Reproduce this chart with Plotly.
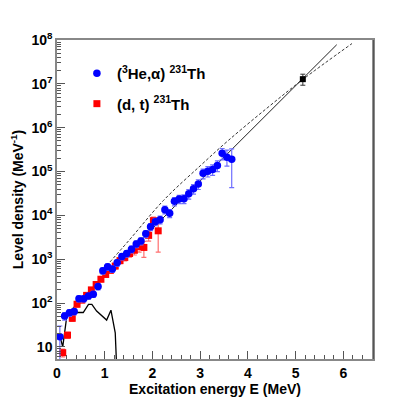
import plotly.graph_objects as go

# (3He,alpha) 231Th - blue circles
he_energy = [0.06, 0.16, 0.26, 0.36, 0.46, 0.56, 0.66, 0.76, 0.86, 0.96,
             1.06, 1.16, 1.26, 1.36, 1.46, 1.56, 1.66, 1.76, 1.86, 1.96,
             2.06, 2.16, 2.26, 2.36, 2.46, 2.56, 2.66, 2.76, 2.86, 2.96,
             3.06, 3.16, 3.26, 3.36, 3.46, 3.56, 3.66]
he_rho = [17, 51, 60, 64, 126, 126, 145, 160, 240, 550,
          670, 600, 830, 1150, 1350, 1700, 2240, 2600, 3800, 5500,
          7200, 8000, 13500, 11200, 21000, 23500, 24000, 31000, 40500, 52000,
          91000, 102000, 112000, 138000, 260000, 213000, 190000]
he_err_up = [13, 10, 10, 10, 20, 20, 22, 25, 40, 90,
             110, 100, 140, 190, 230, 300, 400, 480, 700, 1000,
             1400, 1600, 2700, 2300, 4500, 5000, 5500, 7500, 10000, 13000,
             23000, 27000, 30000, 38000, 75000, 95000, 140000]
he_err_dn = [13, 10, 10, 10, 20, 20, 22, 25, 40, 90,
             110, 100, 140, 190, 230, 300, 400, 480, 700, 1000,
             1400, 1600, 2700, 2300, 4500, 5000, 5500, 7500, 10000, 13000,
             23000, 27000, 30000, 38000, 75000, 80000, 147000]

# (d,t) 231Th - red squares
dt_energy = [0.12, 0.22, 0.32, 0.42, 0.52, 0.62, 0.72, 0.82, 0.92, 1.02,
             1.12, 1.22, 1.32, 1.42, 1.52, 1.62, 1.72, 1.82, 1.92, 2.02, 2.12]
dt_rho = [7.4, 18.6, 45, 94, 117, 150, 200, 265, 350, 450,
          560, 700, 930, 1100, 1350, 1600, 1950, 1860, 3500, 7600, 4450]
dt_err_up = [1.5, 3, 7, 12, 15, 20, 25, 35, 45, 60,
             80, 100, 140, 180, 230, 350, 500, 700, 900, 1500, 2000]
dt_err_dn = [1.5, 3, 7, 12, 15, 20, 25, 35, 45, 60,
             80, 100, 140, 180, 230, 350, 500, 760, 900, 1500, 3000]

# level density at neutron separation energy
sn_energy = [5.15]
sn_rho = [1.28e7]
sn_err_up = [0.38e7]
sn_err_dn = [0.35e7]

# discrete levels
disc_energy = [0.0, 0.05, 0.12, 0.22, 0.31, 0.38, 0.55, 0.66, 0.73, 0.83,
               1.04, 1.13, 1.22, 1.27]
disc_rho = [19, 19.5, 10, 66, 69, 61, 61, 93, 93, 66,
            41, 69, 21, 1]

# constant temperature interpolation (solid)
ct_energy = [0.25, 2.0, 3.84, 5.86]
ct_rho = [63, 5000, 5.1e5, 7.8e7]

# Fermi gas (dashed)
fg_energy = [0.9, 1.5, 2.23, 3.0, 3.59, 4.4, 5.15, 6.18]
fg_rho = [480, 2630, 21900, 135000, 513000, 2.8e6, 1.26e7, 8.3e7]

y_tickvals = [10, 1e2, 1e3, 1e4, 1e5, 1e6, 1e7, 1e8]
y_ticktext = ['10', '10<sup>2</sup>', '10<sup>3</sup>', '10<sup>4</sup>',
              '10<sup>5</sup>', '10<sup>6</sup>', '10<sup>7</sup>', '10<sup>8</sup>']

fig = go.Figure()

fig.add_trace(go.Scatter(
    x=disc_energy, y=disc_rho, mode='lines',
    line=dict(color='black', width=1.3), showlegend=False, hoverinfo='skip'
))
fig.add_trace(go.Scatter(
    x=fg_energy, y=fg_rho, mode='lines', line_shape='spline',
    line=dict(color='#333', width=1, dash='3px,2px'), showlegend=False
))
fig.add_trace(go.Scatter(
    x=ct_energy, y=ct_rho, mode='lines',
    line=dict(color='#222', width=1), showlegend=False
))

fig.add_trace(go.Scatter(
    x=dt_energy, y=dt_rho, mode='markers', legendgroup='dt', legendrank=2,
    name='<b>(d, t) <sup>231</sup>Th</b>',
    marker=dict(symbol='square', size=7, color='#ff0000'),
    error_y=dict(type='data', array=dt_err_up, arrayminus=dt_err_dn,
                 color='#ff6f6f', thickness=1.2, width=2.5)
))
fig.add_trace(go.Scatter(
    x=he_energy, y=he_rho, mode='markers', legendgroup='he', legendrank=1,
    name='<b>(<sup>3</sup>He,α) <sup>231</sup>Th</b>',
    marker=dict(symbol='circle', size=7.5, color='#0000ff'),
    error_y=dict(type='data', array=he_err_up, arrayminus=he_err_dn,
                 color='#6f6fff', thickness=1.2, width=2.5)
))
fig.add_trace(go.Scatter(
    x=sn_energy, y=sn_rho, mode='markers', showlegend=False,
    marker=dict(symbol='square', size=6, color='black'),
    error_y=dict(type='data', array=sn_err_up, arrayminus=sn_err_dn,
                 color='#333', thickness=1, width=2.5)
))

axis_font = dict(family='Liberation Sans', size=14, color='black')

# page body has an 8px margin, so the figure is shrunk by that much
fig.update_layout(
    width=407, height=391,
    margin=dict(l=49, r=42, t=32, b=40),
    paper_bgcolor='white', plot_bgcolor='white',
    font=dict(family='Liberation Sans', color='black'),
    showlegend=True,
    legend=dict(x=0.063, y=0.947, xanchor='left', yanchor='top',
                font=dict(family='Liberation Sans', size=15, color='black'),
                bgcolor='rgba(0,0,0,0)', traceorder='grouped',
                tracegroupgap=8, itemwidth=30),
    xaxis=dict(
        range=[0, 6.62], tickvals=[0, 1, 2, 3, 4, 5, 6],
        ticktext=['<b>%d</b>' % v for v in range(7)],
        ticks='inside', ticklen=8, tickcolor='#555',
        minor=dict(dtick=0.2, ticks='inside', ticklen=4, tickcolor='#555'),
        showline=True, linecolor='#888', linewidth=1.5, mirror=True,
        showgrid=False, zeroline=False, tickfont=axis_font, automargin=False,
        title=dict(text='<b>Excitation energy E (MeV)</b>', font=axis_font, standoff=2)
    ),
    yaxis=dict(
        type='log', range=[0.725, 8],
        tickvals=y_tickvals, ticktext=['<b>%s</b>' % t for t in y_ticktext],
        ticks='inside', ticklen=8, tickcolor='#555',
        minor=dict(ticks='inside', ticklen=4, tickcolor='#555', dtick='D1'),
        showline=True, linecolor='#888', linewidth=1.5, mirror=True,
        showgrid=False, zeroline=False, tickfont=axis_font, automargin=False,
        title=dict(text='<b>Level density (MeV<sup>-1</sup>)</b>', font=axis_font, standoff=10)
    ),
    shapes=[dict(type='line', xref='paper', yref='paper', x0=1, x1=1, y0=0, y1=1,
                 line=dict(color='#222', width=1))]
)

fig.write_html('out.html')
